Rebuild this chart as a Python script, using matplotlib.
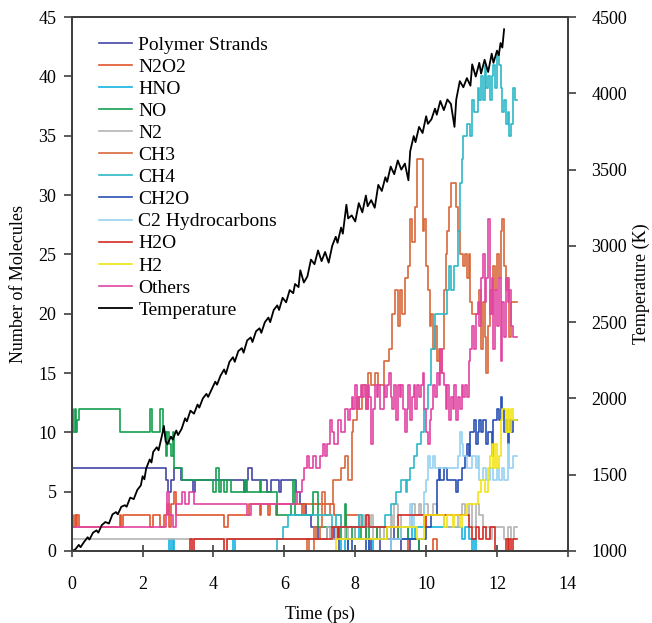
import matplotlib
matplotlib.use("Agg")
import matplotlib.pyplot as plt

plt.rcParams['font.family'] = ['Liberation Serif', 'DejaVu Serif']
plt.rcParams['font.size'] = 13

# ---- data ----
ps_t = [0, 2.65, 2.72, 2.8, 2.88, 3.08, 3.42, 3.47, 4.85, 4.92, 4.97, 5.1, 5.5, 5.62, 5.85, 5.9,
        6.32, 6.45, 6.6, 6.75, 6.95, 7.2, 7.4, 7.55, 7.8, 8.0, 8.3, 8.45, 8.7, 8.9, 9.1, 9.3, 9.55, 9.8, 10.1, 12.55]
ps_v = [7, 6, 5, 6, 7, 6, 5, 6, 5, 6, 7, 6, 5, 6, 5, 6,
        5, 4, 3, 2, 1, 2, 1, 0, 1, 2, 1, 0, 1, 2, 1, 0, 1, 0, 0, 0]

n2o2_t = [0, 0.04, 0.08, 0.12, 0.16, 0.2, 1.35, 1.4, 1.45, 2.2, 2.3, 2.5, 2.6, 2.7, 2.75, 2.8, 2.88,
          2.95, 3.05, 4.3, 4.4, 5.0, 5.3, 5.35, 5.55, 5.6, 5.75, 5.8, 6.5, 6.55, 7.4, 7.6, 7.75,
          7.8, 8.2, 8.3, 8.6, 8.7, 9.2, 9.3, 9.5, 10.2, 10.3, 12.55]
n2o2_v = [3, 2, 3, 2, 3, 2, 3, 2, 3, 2, 3, 2, 3, 4, 2, 4, 5,
          3, 3, 2, 3, 4, 3, 4, 3, 4, 3, 4, 3, 4, 3, 2, 3,
          3, 2, 1, 2, 1, 2, 1, 0, 1, 0, 0]

hno_t = [0, 2.75, 2.8, 2.85, 2.9, 4.55, 4.62, 7.6, 7.7, 7.8, 8.0, 8.1, 8.4, 8.5, 9.0, 9.5, 9.6, 9.7,
         9.8, 10.5, 10.6, 11.0, 11.1, 11.2, 11.3, 11.35, 11.42, 12.55]
hno_v = [0, 1, 0, 1, 0, 1, 0, 1, 0, 1, 2, 1, 0, 1, 1, 2, 1, 2,
         2, 2, 2, 1, 2, 1, 0, 1, 0, 0]

no_t = [0, 0.04, 0.08, 0.12, 0.16, 0.2, 1.35, 2.2, 2.27, 2.5, 2.57, 2.65, 2.7, 2.75, 2.8, 2.85, 2.9,
        2.95, 3.1, 4.0, 4.08, 4.15, 4.22, 4.3, 4.38, 4.5, 4.9, 4.95, 5.3, 5.35, 5.8, 6.2, 6.25, 6.3,
        6.4, 6.8, 6.95, 7.0, 7.5, 7.6, 7.7, 7.75, 7.9, 8.0, 8.15, 8.3, 8.4, 8.6, 8.7, 8.9, 9.0,
        9.2, 9.3, 9.5, 9.6, 9.8, 12.55]
no_v = [12, 10, 12, 10, 11, 12, 10, 12, 10, 12, 10, 8, 10, 9, 8, 10, 7,
        7, 6, 5, 7, 5, 6, 5, 6, 5, 6, 5, 6, 5, 3, 4, 6, 3,
        3, 5, 2, 2, 1, 2, 4, 1, 2, 1, 2, 1, 2, 1, 2, 1, 2,
        1, 2, 1, 1, 0, 0]

n2_t = [0, 7.2, 7.3, 7.45, 7.55, 7.7, 7.8, 8.0, 8.1, 8.15, 8.2, 8.25, 8.3, 8.35, 8.45, 8.5, 8.7, 8.8,
        9.0, 9.05, 9.1, 9.2, 9.3, 9.6, 9.7, 9.8, 9.85, 9.95, 10.05, 10.2, 10.3, 10.5, 10.9, 11.0,
        11.1, 11.2, 11.3, 11.4, 11.5, 11.6, 11.8, 11.85, 12.2, 12.3, 12.4, 12.48, 12.55]
n2_v = [1, 2, 1, 2, 1, 2, 1, 2, 3, 2, 3, 2, 3, 2, 3, 1, 2, 1,
        3, 2, 4, 3, 2, 4, 3, 4, 3, 4, 3, 4, 3, 2, 3, 4,
        3, 4, 2, 4, 3, 2, 1, 2, 1, 2, 1, 2, 2]

ch3_t = [0, 6.65, 6.7, 6.85, 6.9, 7.0, 7.05, 7.15, 7.3, 7.38, 7.6, 7.7, 7.8, 7.9, 7.95, 8.05, 8.1,
         8.2, 8.3, 8.35, 8.45, 8.55, 8.65, 8.8, 8.95, 9.05, 9.12, 9.2, 9.27, 9.33, 9.4, 9.48, 9.55,
         9.6, 9.68, 9.75, 9.9, 9.95, 10.0, 10.05, 10.1, 10.15, 10.2, 10.25, 10.3, 10.35, 10.4,
         10.45, 10.5, 10.55, 10.6, 10.65, 10.7, 10.85, 10.9, 10.95, 11.05, 11.1, 11.15, 11.2,
         11.25, 11.3, 11.4, 11.5, 11.55, 11.6, 11.65, 11.7, 11.75, 11.8, 11.85, 11.9, 11.95,
         12.0, 12.05, 12.1, 12.15, 12.2, 12.25, 12.3, 12.35, 12.4, 12.55]
ch3_v = [0, 1, 0, 2, 1, 2, 5, 3, 4, 6, 7, 8, 6, 10, 11, 13, 12,
         14, 12, 15, 14, 15, 14, 16, 17, 20, 22, 19, 22, 20, 23, 24, 28,
         26, 29, 33, 27, 28, 24, 22, 19, 20, 17, 19, 16, 17, 15,
         17, 22, 25, 27, 29, 31, 29, 27, 25, 24, 25, 23, 25,
         21, 20, 20, 22, 17, 21, 18, 15, 19, 22, 20, 24, 22,
         25, 23, 27, 28, 24, 22, 23, 18, 21, 21]

ch4_t = [0, 5.8, 5.95, 6.1, 7.35, 7.45, 7.6, 8.1, 8.2, 8.85, 9.0, 9.15, 9.3, 9.42, 9.47, 9.55,
         9.65, 9.75, 9.85, 9.95, 10.05, 10.15, 10.25, 10.5, 10.58, 10.65, 10.7, 10.8, 10.9,
         10.95, 11.0, 11.05, 11.15, 11.25, 11.3, 11.35, 11.45, 11.5, 11.55, 11.6, 11.65, 11.7,
         11.75, 11.8, 11.85, 11.9, 11.95, 12.0, 12.05, 12.1, 12.15, 12.2, 12.25, 12.3, 12.35,
         12.4, 12.45, 12.5, 12.55]
ch4_v = [0, 1, 2, 3, 2, 3, 2, 3, 2, 3, 4, 5, 6, 5, 6, 7,
         8, 9, 10, 12, 14, 17, 20, 20, 22, 24, 22, 24, 27,
         31, 33, 35, 36, 35, 38, 37, 39, 38, 40, 38, 41, 39,
         40, 38, 40, 41, 39, 42, 41, 39, 37, 38, 36, 37, 35,
         36, 39, 38, 38]

ch2o_t = [0, 7.8, 7.9, 8.3, 8.38, 9.0, 10.0, 10.15, 10.3, 10.35, 10.4, 10.5, 10.6, 10.85, 10.9,
          11.0, 11.1, 11.15, 11.2, 11.25, 11.35, 11.4, 11.45, 11.5, 11.55, 11.6, 11.7, 11.75,
          11.85, 11.9, 12.0, 12.05, 12.1, 12.15, 12.2, 12.25, 12.3, 12.35, 12.4, 12.45, 12.55]
ch2o_v = [0, 1, 0, 1, 0, 1, 2, 3, 6, 7, 6, 7, 6, 5, 6,
          7, 8, 9, 8, 10, 11, 9, 10, 11, 10, 11, 9, 10,
          8, 11, 12, 11, 13, 12, 10, 11, 9, 11, 10, 11, 11]

c2_t = [0, 9.0, 9.3, 9.55, 9.6, 9.65, 9.95, 10.0, 10.05, 10.1, 10.2, 10.25, 10.9, 10.95, 11.0,
        11.05, 11.15, 11.3, 11.4, 11.45, 11.5, 11.6, 11.7, 11.8, 11.9, 12.0, 12.05, 12.15, 12.2,
        12.3, 12.35, 12.45, 12.55]
c2_v = [0, 1, 2, 4, 2, 3, 5, 6, 8, 7, 8, 7, 8, 10, 9,
        8, 7, 8, 7, 8, 6, 7, 6, 7, 6, 7, 6, 7, 6,
        9, 7, 8, 8]

h2o_t = [0, 3.35, 3.4, 3.45, 4.3, 4.38, 7.35, 7.5, 7.55, 8.3, 8.4, 9.2, 9.95, 10.0, 10.05, 11.2,
         11.3, 11.4, 11.5, 11.6, 11.7, 11.8, 11.95, 12.25, 12.3, 12.35, 12.4, 12.45, 12.55]
h2o_v = [0, 1, 0, 1, 0, 1, 2, 1, 2, 3, 2, 3, 2, 3, 3, 2,
         1, 2, 1, 2, 1, 2, 0, 1, 0, 1, 0, 1, 1]

h2_t = [0, 7.45, 8.9, 9.75, 9.95, 10.5, 10.6, 10.75, 10.8, 10.95, 11.0, 11.15, 11.45, 11.55, 11.65,
        11.75, 11.8, 11.85, 11.9, 11.95, 12.0, 12.05, 12.1, 12.15, 12.25, 12.3, 12.35, 12.4,
        12.45, 12.55]
h2_v = [0, 1, 2, 1, 3, 2, 3, 2, 3, 2, 3, 4, 5, 6, 5,
        7, 8, 9, 7, 9, 7, 8, 11, 12, 10, 12, 10, 12,
        11, 11]

oth_t = [0, 2.65, 2.7, 2.75, 2.85, 2.95, 3.1, 3.2, 3.3, 3.45, 4.95, 5.05, 6.35, 6.5, 6.55, 6.65,
         6.7, 6.8, 6.9, 7.0, 7.1, 7.15, 7.2, 7.3, 7.35, 7.4, 7.5, 7.6, 7.7, 7.8, 7.85, 7.9,
         7.95, 8.0, 8.05, 8.1, 8.15, 8.2, 8.25, 8.3, 8.35, 8.4, 8.45, 8.5, 8.55, 8.6, 8.65,
         8.7, 8.8, 8.85, 8.9, 8.95, 9.0, 9.05, 9.1, 9.15, 9.2, 9.25, 9.3, 9.35, 9.4, 9.45,
         9.5, 9.55, 9.6, 9.65, 9.7, 9.75, 9.8, 9.85, 9.9, 9.95, 10.0, 10.05, 10.1, 10.15,
         10.2, 10.25, 10.3, 10.35, 10.4, 10.45, 10.5, 10.55, 10.6, 10.65, 10.7, 10.75, 10.8,
         10.85, 10.9, 10.95, 11.0, 11.05, 11.1, 11.15, 11.2, 11.25, 11.3, 11.35, 11.4, 11.45,
         11.5, 11.55, 11.6, 11.65, 11.7, 11.75, 11.8, 11.85, 11.9, 11.95, 12.0, 12.05, 12.1,
         12.15, 12.2, 12.25, 12.3, 12.35, 12.4, 12.45, 12.55]
oth_v = [2, 3, 5, 3, 2, 4, 5, 4, 5, 4, 3, 4, 5, 6, 7, 8,
         7, 8, 7, 8, 9, 8, 9, 11, 10, 9, 11, 10, 12, 11, 12, 13,
         12, 14, 12, 13, 14, 13, 14, 12, 14, 13, 9, 12, 14, 13, 14,
         12, 14, 13, 14, 15, 13, 12, 14, 11, 14, 13, 14, 12, 10, 12,
         14, 11, 13, 14, 12, 14, 13, 14, 15, 12, 10, 9, 11, 12,
         14, 13, 15, 14, 17, 15, 14, 12, 14, 11, 13, 12, 14,
         11, 13, 12, 14, 13, 14, 13, 16, 17, 19, 17, 20, 21,
         19, 23, 25, 21, 23, 28, 20, 23, 17, 22, 19, 23, 16,
         21, 18, 23, 21, 22, 19, 18, 18]

temp_t = [0.0, 0.1, 0.2, 0.25, 0.35, 0.45, 0.5, 0.6, 0.7, 0.75, 0.85, 0.95, 1.05, 1.15, 1.25, 1.3,
          1.4, 1.5, 1.55, 1.65, 1.75, 1.85, 1.95, 2.0, 2.05, 2.1, 2.2, 2.25, 2.3, 2.4, 2.45, 2.55,
          2.6, 2.65, 2.7, 2.8, 2.85, 2.95, 3.0, 3.1, 3.2, 3.25, 3.35, 3.45, 3.55, 3.6, 3.7, 3.8,
          3.85, 3.95, 4.05, 4.1, 4.2, 4.3, 4.35, 4.45, 4.55, 4.6, 4.7, 4.8, 4.85, 4.95, 5.05, 5.1,
          5.2, 5.3, 5.35, 5.45, 5.55, 5.6, 5.7, 5.8, 5.85, 5.95, 6.05, 6.15, 6.25, 6.3, 6.4, 6.45,
          6.55, 6.65, 6.75, 6.85, 6.95, 7.05, 7.15, 7.25, 7.35, 7.45, 7.5, 7.6, 7.65, 7.75, 7.8,
          7.9, 8.0, 8.1, 8.2, 8.3, 8.35, 8.45, 8.55, 8.65, 8.75, 8.85, 8.9, 9.0, 9.1, 9.2, 9.3,
          9.4, 9.5, 9.55, 9.65, 9.7, 9.8, 9.9, 10.0, 10.05, 10.15, 10.25, 10.3, 10.4, 10.5, 10.6,
          10.7, 10.8, 10.85, 10.95, 11.05, 11.15, 11.25, 11.3, 11.4, 11.5, 11.55, 11.65, 11.75,
          11.85, 11.9, 12.0, 12.05, 12.1, 12.15, 12.2]
temp_v = [1000, 1010, 1040, 1025, 1060, 1090, 1075, 1120, 1135, 1120, 1170, 1190, 1180, 1240, 1255, 1240,
          1290, 1300, 1290, 1350, 1340, 1400, 1430, 1490, 1470, 1540, 1600, 1580, 1650, 1680, 1660, 1760,
          1820, 1720, 1700, 1750, 1730, 1790, 1760, 1800, 1870, 1850, 1920, 1900, 1960, 1940, 2000, 2030,
          2010, 2060, 2110, 2090, 2150, 2190, 2160, 2240, 2270, 2240, 2310, 2330, 2300, 2380, 2400, 2370,
          2440, 2460, 2430, 2500, 2530, 2500, 2580, 2610, 2580, 2660, 2630, 2710, 2690, 2750, 2730, 2840,
          2760, 2800, 2910, 2880, 2970, 2900, 2960, 2890, 3000, 3060, 3020, 3120, 3080, 3270, 3180,
          3200, 3160, 3280, 3220, 3330, 3260, 3300, 3250, 3400, 3360, 3450, 3420, 3520, 3470, 3560, 3500,
          3540, 3430, 3620, 3720, 3680, 3780, 3740, 3850, 3800, 3830, 3900, 3860, 3950, 3890, 3960,
          3930, 3780, 3960, 4080, 4040, 4100, 4050, 4190, 4110, 4200, 4130, 4220, 4140,
          4260, 4200, 4280, 4250, 4330, 4300, 4420]

series = [
    ("Polymer Strands", ps_t, ps_v, "#4545a5"),
    ("N2O2", n2o2_t, n2o2_v, "#e2552c"),
    ("HNO", hno_t, hno_v, "#14b4e0"),
    ("NO", no_t, no_v, "#16a050"),
    ("N2", n2_t, n2_v, "#b4b4b4"),
    ("CH3", ch3_t, ch3_v, "#d8683a"),
    ("CH4", ch4_t, ch4_v, "#2eb8c8"),
    ("CH2O", ch2o_t, ch2o_v, "#2a52b4"),
    ("C2 Hydrocarbons", c2_t, c2_v, "#96d2f2"),
    ("H2O", h2o_t, h2o_v, "#d42a22"),
    ("H2", h2_t, h2_v, "#f2e414"),
    ("Others", oth_t, oth_v, "#e244a2"),
]

fig = plt.figure(figsize=(6.52, 6.23), dpi=100)
ax = fig.add_axes([0.110, 0.1156, 0.761, 0.857])
ax2 = ax.twinx()

handles = []
for name, t, v, col in series:
    h, = ax.plot(t, v, drawstyle="steps-post", color=col, lw=1.2, label=name)
    handles.append(h)
ht, = ax2.plot(temp_t, temp_v, color="black", lw=1.3, label="Temperature")
handles.append(ht)

ax.set_xlim(0, 14)
ax.set_ylim(0, 45)
ax.set_xticks(range(0, 15, 2))
ax.set_yticks(range(0, 46, 5))
ax2.set_ylim(1000, 4500)
ax2.set_yticks(range(1000, 4501, 500))

for a in (ax, ax2):
    for s in a.spines.values():
        s.set_color("#404040")
        s.set_linewidth(1.4)
ax.tick_params(axis="y", direction="out", length=6, width=1.2, color="#404040", pad=5)
ax.tick_params(axis="x", direction="inout", length=8, width=1.2, color="#404040", pad=14)
ax2.tick_params(axis="y", direction="out", length=6, width=1.2, color="#404040", pad=11)

ax.set_xlabel("Time (ps)", fontsize=13, labelpad=9)
ax.set_ylabel("Number of Molecules", fontsize=13, labelpad=8)
ax2.set_ylabel("Temperature (K)", fontsize=13, labelpad=4)

ax2.legend(handles=handles, loc="upper left", bbox_to_anchor=(0.04, 0.979), frameon=False,
           fontsize=14, handlelength=1.7, handletextpad=0.3, labelspacing=0.23, borderaxespad=0)

fig.savefig("out.png", dpi=100)
